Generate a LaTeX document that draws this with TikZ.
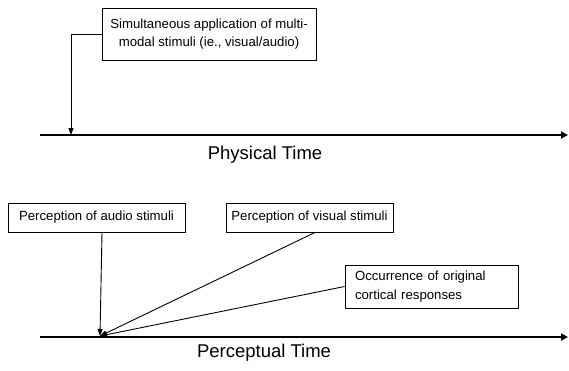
\documentclass[tikz,border=0pt]{standalone}
\usepackage{fontspec}
\setmainfont{Liberation Sans}
\usetikzlibrary{arrows.meta}
\begin{document}
\begin{tikzpicture}[x=1pt,y=-1pt,
  box/.style={draw, line width=0.9pt, inner sep=0pt, font=\fontsize{13.2}{18.5}\selectfont},
  axis/.style={line width=2.2pt, -{Triangle[length=7pt,width=7pt]}},
  link/.style={line width=0.9pt, -{Triangle[length=7pt,width=5pt]}},
  axlabel/.style={font=\fontsize{18.5}{22}\selectfont}]
\useasboundingbox (0,0) rectangle (569,370);

% physical time line
\node[box, minimum width=214pt, minimum height=52pt, align=center] (simul) at (209,34)
  {Simultaneous application of multi-\\modal stimuli (ie., visual/audio)};
\coordinate (p0) at (40,135);
\coordinate (p1) at (568,135);
\coordinate (hit) at (71,135);
\draw[axis] (p0) -- (p1);
\node[axlabel] (phys) at (265,155) {Physical Time};
\draw[link] (simul.west) -| (hit);

% perceptual time line
\node[box, minimum width=177pt, minimum height=29pt] (audio) at (96.5,217.5)
  {Perception of audio stimuli};
\node[box, minimum width=167pt, minimum height=29pt] (visual) at (309.5,217.5)
  {Perception of visual stimuli};
\node[box, minimum width=173pt, minimum height=43pt, align=left, text width=153pt] (cort) at (431.5,286.5)
  {Occurrence of original\\cortical responses};
\coordinate (q0) at (40,337);
\coordinate (q1) at (568,337);
\coordinate (conv) at (100,336);
\draw[axis] (q0) -- (q1);
\node[axlabel] (perc) at (264,353) {Perceptual Time};
\draw[link] ([xshift=5.5pt]audio.south) -- (conv);
\draw[link] ([xshift=5.5pt]visual.south) -- (conv);
\draw[link] (cort.west) -- (conv);
\end{tikzpicture}
\end{document}
